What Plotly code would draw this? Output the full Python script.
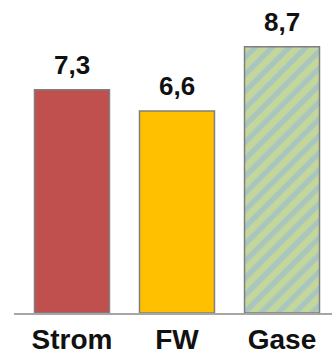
import plotly.graph_objects as go

categories = ["Strom", "FW", "Gase"]
values = [7.3, 6.6, 8.7]
labels = ["7,3", "6,6", "8,7"]
fill_colors = ["#c0504d", "#ffc000", "#c3d69b"]
stripe_color = "#8eb4e3"

FONT = "Liberation Sans, Arial"

fig = go.Figure()
# solid bars
fig.add_trace(go.Bar(
    x=categories[:2], y=values[:2], width=0.714,
    marker=dict(color=fill_colors[:2], line=dict(color="#7f7f7f", width=1.5)),
    hoverinfo="skip",
))
# hatched bar
fig.add_trace(go.Bar(
    x=categories[2:], y=values[2:], width=0.714,
    marker=dict(
        color=fill_colors[2],
        line=dict(color="#7f7f7f", width=1.5),
        pattern=dict(shape="/", fgcolor=stripe_color, size=12, solidity=0.45,
                     fillmode="overlay"),
    ),
    hoverinfo="skip",
))

for c, v, t in zip(categories, values, labels):
    fig.add_annotation(x=c, y=v, text=t, showarrow=False, yanchor="bottom",
                       yshift=8,
                       font=dict(family=FONT, size=26, color="#111111", weight="bold"))

fig.update_layout(
    width=332, height=355,
    margin=dict(l=14, r=0, t=0, b=42, autoexpand=False),
    paper_bgcolor="white", plot_bgcolor="white",
    showlegend=False, barmode="overlay",
    font=dict(family=FONT, color="#111111"),
    xaxis=dict(
        range=[-0.552, 2.476], automargin=False,
        categoryorder="array", categoryarray=categories,
        showline=True, linecolor="#a6a6a6", linewidth=2,
        showgrid=False, zeroline=False, ticks="",
        tickfont=dict(family=FONT, size=28, color="#111111", weight="bold"),
        ticklabelstandoff=0,
    ),
    yaxis=dict(range=[0, 10.23], visible=False),
)

fig.write_html("out.html")
